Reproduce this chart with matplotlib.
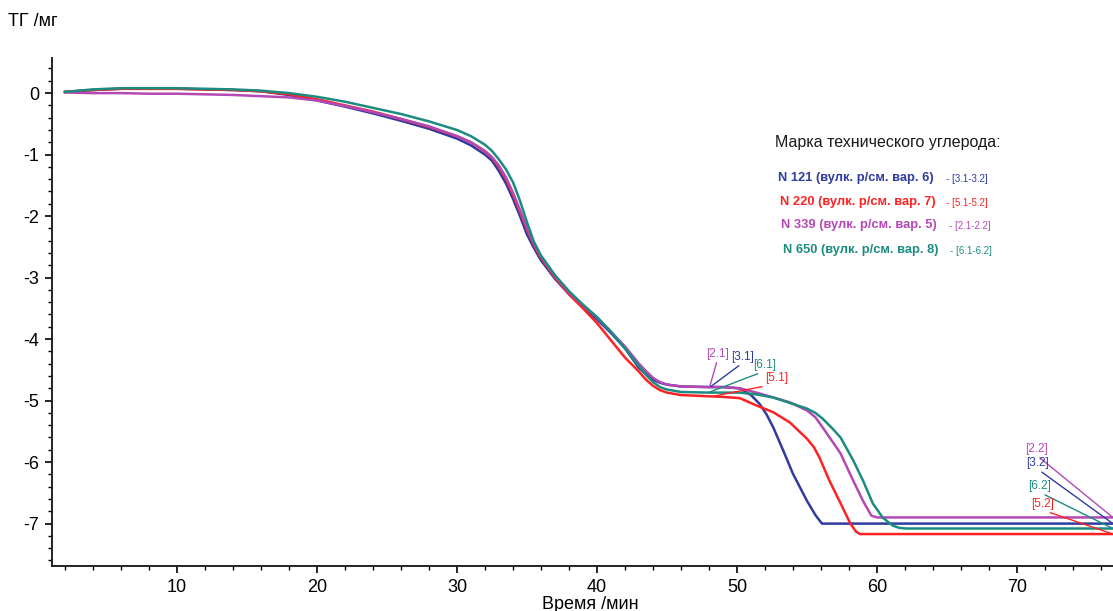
"""
TG curves of vulcanized rubber compounds with different carbon black grades
"""
import matplotlib
matplotlib.use('Agg')
import matplotlib.pyplot as plt
from matplotlib.ticker import MultipleLocator

plt.rcParams['font.family'] = ['Liberation Sans', 'DejaVu Sans']
plt.rcParams['axes.unicode_minus'] = False

# N 121 (blue) [3.1-3.2]
x_n121 = [2, 4, 6, 8, 10, 12, 14, 16, 18, 20, 22, 24, 26, 28, 30, 31, 32, 32.5, 33, 33.5,
          34, 34.5, 35, 35.5, 36, 37, 38, 39, 40, 41, 42, 43, 43.5, 44, 44.5, 45, 46, 48,
          49, 50.2, 51, 51.6, 52.1, 52.6, 53.3, 54.0, 55.0, 55.6, 56.07, 60, 65, 70, 76.9]
y_n121 = [0.02, 0.05, 0.07, 0.07, 0.07, 0.06, 0.05, 0.03, -0.03, -0.12, -0.22, -0.33, -0.45,
          -0.58, -0.74, -0.85, -1.0, -1.1, -1.27, -1.47, -1.72, -2.0, -2.3, -2.52, -2.72,
          -3.02, -3.27, -3.48, -3.68, -3.9, -4.15, -4.47, -4.57, -4.66, -4.71, -4.74, -4.77,
          -4.78, -4.78, -4.8, -4.91, -5.05, -5.22, -5.44, -5.81, -6.19, -6.63, -6.86, -7.0,
          -7.0, -7.0, -7.0, -7.0]

# N 220 (red) [5.1-5.2]
x_n220 = [2, 4, 6, 8, 10, 12, 14, 16, 18, 20, 22, 24, 26, 28, 30, 31, 32, 32.5, 33, 33.5,
          34, 34.5, 35, 35.5, 36, 37, 38, 39, 40, 41, 42, 43, 43.5, 44, 44.5, 45, 46, 48,
          49, 50.2, 51.4, 52.6, 53.8, 55.0, 55.5, 55.9, 56.6, 57.4, 58.1, 58.5, 58.8,
          65, 70, 76.9]
y_n220 = [0.02, 0.05, 0.07, 0.07, 0.07, 0.06, 0.05, 0.03, -0.02, -0.1, -0.2, -0.3, -0.42,
          -0.55, -0.7, -0.8, -0.95, -1.05, -1.2, -1.4, -1.65, -1.93, -2.22, -2.47, -2.68,
          -3.0, -3.27, -3.5, -3.74, -4.02, -4.3, -4.53, -4.66, -4.76, -4.83, -4.87, -4.91,
          -4.93, -4.94, -4.96, -5.08, -5.19, -5.36, -5.62, -5.76, -5.93, -6.3, -6.67, -7.0,
          -7.13, -7.17, -7.17, -7.17, -7.17]

# N 339 (purple) [2.1-2.2]
x_n339 = [2, 4, 6, 8, 10, 12, 14, 16, 18, 20, 22, 24, 26, 28, 30, 31, 32, 32.5, 33, 33.5,
          34, 34.5, 35, 35.5, 36, 37, 38, 39, 40, 41, 42, 43, 43.5, 44, 44.5, 45, 46, 48,
          49, 50.2, 51.4, 52.6, 53.8, 55.0, 55.6, 56.1, 56.8, 57.4, 58.3, 59.0, 59.6, 60.0,
          65, 70, 76.9]
y_n339 = [0.01, 0.0, 0.0, -0.01, -0.01, -0.02, -0.03, -0.05, -0.07, -0.12, -0.21, -0.31,
          -0.42, -0.54, -0.7, -0.8, -0.94, -1.04, -1.18, -1.37, -1.62, -1.9, -2.2, -2.45,
          -2.66, -2.98, -3.24, -3.45, -3.65, -3.88, -4.12, -4.4, -4.52, -4.63, -4.7, -4.74,
          -4.77, -4.78, -4.78, -4.8, -4.87, -4.95, -5.03, -5.16, -5.27, -5.43, -5.66, -5.86,
          -6.3, -6.63, -6.87, -6.9, -6.9, -6.9, -6.9]

# N 650 (teal) [6.1-6.2]
x_n650 = [2, 4, 6, 8, 10, 12, 14, 16, 18, 20, 22, 24, 26, 28, 30, 31, 32, 32.5, 33, 33.5,
          34, 34.5, 35, 35.5, 36, 37, 38, 39, 40, 41, 42, 43, 43.5, 44, 44.5, 45, 46, 48,
          49, 50.2, 51.4, 52.6, 53.8, 55.0, 55.6, 56.1, 56.8, 57.4, 58.3, 59.0, 59.7, 60.4,
          61.1, 61.6, 62.1, 65, 70, 76.9]
y_n650 = [0.02, 0.06, 0.08, 0.08, 0.08, 0.07, 0.06, 0.04, 0.0, -0.06, -0.14, -0.24, -0.34,
          -0.46, -0.6, -0.7, -0.84, -0.94, -1.08, -1.24, -1.45, -1.75, -2.1, -2.42, -2.64,
          -2.96, -3.22, -3.44, -3.64, -3.88, -4.15, -4.44, -4.58, -4.7, -4.78, -4.82, -4.86,
          -4.87, -4.87, -4.87, -4.9, -4.95, -5.04, -5.13, -5.2, -5.29, -5.45, -5.6, -5.97,
          -6.3, -6.67, -6.9, -7.03, -7.07, -7.08, -7.08, -7.08, -7.08]

colors = {'n121': '#2f3b9e', 'n220': '#ff2222', 'n339': '#b548b5', 'n650': '#1c8b80'}

legend_names = ['N 121 (вулк. р/см. вар. 6)', 'N 220 (вулк. р/см. вар. 7)',
                'N 339 (вулк. р/см. вар. 5)', 'N 650 (вулк. р/см. вар. 8)']
legend_refs = ['- [3.1-3.2]', '- [5.1-5.2]', '- [2.1-2.2]', '- [6.1-6.2]']
legend_keys = ['n121', 'n220', 'n339', 'n650']

# point labels: (text, key, label position, curve point)
step_labels = [
    ('[2.1]', 'n339', (48.6, -4.24), (48.07, -4.76)),
    ('[3.1]', 'n121', (50.4, -4.29), (48.14, -4.77)),
    ('[6.1]', 'n650', (52.0, -4.42), (48.07, -4.86)),
    ('[5.1]', 'n220', (52.8, -4.63), (48.3, -4.93)),
    ('[2.2]', 'n339', (71.4, -5.79), (76.85, -6.9)),
    ('[3.2]', 'n121', (71.5, -6.02), (76.85, -7.0)),
    ('[6.2]', 'n650', (71.6, -6.39), (76.85, -7.08)),
    ('[5.2]', 'n220', (71.8, -6.68), (76.85, -7.17)),
]

fig = plt.figure(figsize=(11.13, 6.11), dpi=100)
ax = fig.add_axes([0.0467, 0.0736, 0.9533, 0.8314])

for key, xs, ys in [('n121', x_n121, y_n121), ('n220', x_n220, y_n220),
                    ('n339', x_n339, y_n339), ('n650', x_n650, y_n650)]:
    ax.plot(xs, ys, color=colors[key], lw=1.8, solid_joinstyle='round')

ax.set_xlim(1.07, 76.86)
ax.set_ylim(-7.69, 0.57)

ax.xaxis.set_major_locator(MultipleLocator(10))
ax.xaxis.set_minor_locator(MultipleLocator(2))
ax.yaxis.set_major_locator(MultipleLocator(1))
ax.yaxis.set_minor_locator(MultipleLocator(0.2))
ax.tick_params(which='major', direction='out', length=5, width=1.2, labelsize=13, pad=4)
ax.tick_params(which='minor', direction='out', length=3, width=1.0)

for side in ['top', 'right']:
    ax.spines[side].set_visible(False)
for side in ['left', 'bottom']:
    ax.spines[side].set_linewidth(1.4)
    ax.spines[side].set_color('#222222')

for text, key, txt_xy, pt_xy in step_labels:
    ax.annotate(text, xy=pt_xy, xytext=txt_xy, ha='center', va='center',
                fontsize=8.5, color=colors[key],
                arrowprops=dict(arrowstyle='-', color=colors[key], lw=1.0,
                                shrinkA=0, shrinkB=0, relpos=(0.5, 0.0)))

# legend block
fig.text(775 / 1113, 1 - 143 / 611, 'Марка технического углерода:', fontsize=11.5,
         ha='left', va='center', color='#1a1a1a')
row_y = [178, 202, 225, 250]
name_x = [778, 780, 781, 783]
ref_x = [946, 946, 949, 950]
for name, ref, key, yy, nx, rx in zip(legend_names, legend_refs, legend_keys, row_y, name_x, ref_x):
    fig.text(nx / 1113, 1 - yy / 611, name, fontsize=9.3, fontweight='bold',
             color=colors[key], ha='left', va='center')
    fig.text(rx / 1113, 1 - (yy + 1) / 611, ref, fontsize=7,
             color=colors[key], ha='left', va='center')

fig.text(8 / 1113, 1 - 22 / 611, 'ТГ /мг', fontsize=13, ha='left', va='center')
fig.text(590 / 1113, 1 - 596 / 611, 'Время /мин', fontsize=13, ha='center', va='top')

plt.savefig('out.png', dpi=100)
plt.close()
